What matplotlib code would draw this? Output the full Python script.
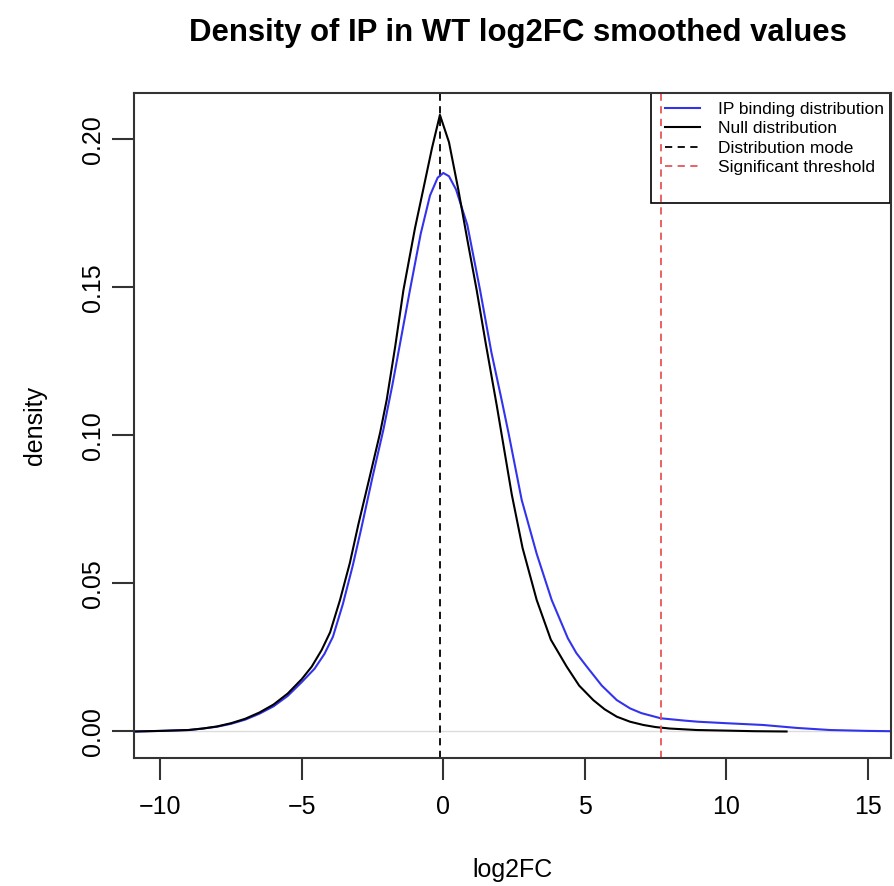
import matplotlib
matplotlib.use("Agg")
import matplotlib.pyplot as plt
from matplotlib.lines import Line2D
from matplotlib.patches import Rectangle

plt.rcParams['font.family'] = ['Liberation Sans', 'DejaVu Sans']

# ---- data ----
null_x = [-10.9, -10.0, -9.0, -8.5, -8.0, -7.5, -7.0, -6.5, -6.0, -5.5, -5.0, -4.65,
          -4.3, -4.0, -3.65, -3.3, -3.0, -2.6, -2.23, -2.0, -1.7, -1.41, -1.0, -0.71,
          -0.4, -0.12, 0.2, 0.53, 0.85, 1.18, 1.5, 1.89, 2.42, 2.8, 3.3, 3.8, 4.36,
          4.8, 5.3, 5.7, 6.13, 6.6, 7.07, 7.5, 8.0, 8.95, 10.0, 11.0, 12.13]
null_y = [0.0, 0.0002, 0.0005, 0.0010, 0.0017, 0.0028, 0.0043, 0.0064, 0.0091, 0.0128,
          0.0177, 0.0219, 0.0275, 0.0335, 0.0444, 0.0570, 0.0700, 0.0860, 0.1010,
          0.1120, 0.1300, 0.1490, 0.1700, 0.1830, 0.1970, 0.2082, 0.1990, 0.1830,
          0.1660, 0.1490, 0.1310, 0.1100, 0.0800, 0.0620, 0.0444, 0.0310, 0.0219,
          0.0155, 0.0106, 0.0075, 0.0050, 0.0033, 0.0022, 0.0015, 0.0010, 0.0005,
          0.0003, 0.0001, 0.0]

ip_x = [-10.93, -10.0, -9.0, -8.5, -8.0, -7.5, -7.0, -6.5, -6.0, -5.5, -5.0, -4.55,
        -4.2, -3.9, -3.55, -3.2, -2.9, -2.5, -2.12, -1.8, -1.18, -0.8, -0.47, -0.2,
        0.0, 0.2, 0.45, 0.85, 1.3, 1.7, 2.06, 2.3, 2.77, 3.3, 3.83, 4.4, 4.7, 5.07,
        5.6, 6.13, 6.6, 7.0, 7.69, 8.5, 9.0, 10.0, 11.3, 12.5, 13.66, 15.0, 15.82]
ip_y = [0.0, 0.0002, 0.0005, 0.0010, 0.0016, 0.0026, 0.0040, 0.0060, 0.0085, 0.0120,
        0.0167, 0.0212, 0.0262, 0.0320, 0.0430, 0.0560, 0.0685, 0.0860, 0.1018,
        0.1170, 0.1490, 0.1680, 0.1810, 0.1870, 0.1886, 0.1875, 0.1830, 0.1710,
        0.1490, 0.1280, 0.1120, 0.1010, 0.0782, 0.0600, 0.0444, 0.0315, 0.0265,
        0.0219, 0.0155, 0.0106, 0.0078, 0.0062, 0.00445, 0.0037, 0.0033, 0.0028,
        0.0022, 0.0012, 0.0005, 0.0002, 0.0001]

distribution_mode = -0.12
significant_threshold = 7.69

x_ticks = [-10, -5, 0, 5, 10, 15]
y_ticks = [0.00, 0.05, 0.10, 0.15, 0.20]
y_tick_labels = ["0.00", "0.05", "0.10", "0.15", "0.20"]
legend_labels = ["IP binding distribution", "Null distribution",
                 "Distribution mode", "Significant threshold"]

W, H = 895, 886
fig = plt.figure(figsize=(W / 100, H / 100), dpi=100)
left, right, top, bottom = 134, 891, 93, 758
aw, ah = right - left, bottom - top
ax = fig.add_axes([left / W, (H - bottom) / H, aw / W, ah / H])

ax.set_xlim(-10.93, 15.82)
ax.set_ylim(-0.00895, 0.2156)

blue = '#3333ee'
red = '#e85555'
ax.axhline(0, color='#dcdcdc', lw=1.0, zorder=1)
ax.plot(ip_x, ip_y, color=blue, lw=1.5, zorder=3)
ax.plot(null_x, null_y, color='black', lw=1.5, zorder=3)
ax.axvline(distribution_mode, color='black', lw=1.3, ls=(0, (4, 3)), zorder=2)
ax.axvline(significant_threshold, color=red, lw=1.3, ls=(0, (4, 3)), zorder=7)

for s in ax.spines.values():
    s.set_color('#333333')
    s.set_linewidth(1.5)
    s.set_zorder(8)

ax.set_xticks(x_ticks)
ax.set_xticklabels([("\u2212" + str(-t)) if t < 0 else str(t) for t in x_ticks])
ax.set_yticks(y_ticks)
ax.set_yticklabels(y_tick_labels, rotation=90, va='center')
ax.tick_params(axis='both', length=16, width=1.5, color='#333333', labelsize=18)
ax.tick_params(axis='x', pad=11)
ax.tick_params(axis='y', pad=5)

ax.set_xlabel("log2FC", fontsize=18)
ax.set_ylabel("density", fontsize=18)
ax.xaxis.set_label_coords(0.5, -(870 - bottom) / ah, transform=ax.transAxes)
ax.xaxis.label.set_va('center')
ax.yaxis.set_label_coords(-(left - 35) / aw, 0.5)
ax.yaxis.label.set_va('center')

fig.text(0.5 * (190 + 845) / W, 1 - 33 / H, "Density of IP in WT log2FC smoothed values",
         ha='center', va='center', fontsize=22.4, fontweight='bold')

# legend box (frame) and entries
bx0, bx1, by0, by1 = 651, 890, 93, 203
ax.add_patch(Rectangle(((bx0 - left) / aw, (bottom - by1) / ah), (bx1 - bx0) / aw,
                       (by1 - by0) / ah, transform=ax.transAxes, facecolor='white',
                       edgecolor='black', lw=1.2, zorder=5, clip_on=False))
handles = [Line2D([], [], color=blue, lw=1.5),
           Line2D([], [], color='black', lw=1.5),
           Line2D([], [], color='black', lw=1.3, ls=(0, (4, 3))),
           Line2D([], [], color=red, lw=1.3, ls=(0, (4, 3)))]
leg = ax.legend(handles, legend_labels, loc='upper left',
                bbox_to_anchor=((665 - left) / aw, (bottom - 101.5) / ah),
                borderaxespad=0, borderpad=0, fontsize=12.5, frameon=False,
                handlelength=2.0, handletextpad=1.03, labelspacing=0.25)
leg.set_zorder(6)

fig.savefig("out.png", dpi=100)
